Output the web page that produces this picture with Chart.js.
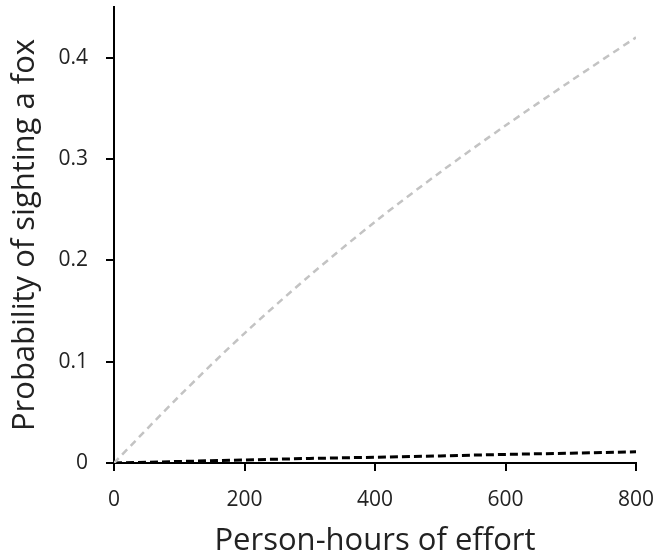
<!DOCTYPE html>
<html>
<head>
<meta charset="utf-8">
<script src="https://cdn.jsdelivr.net/npm/chart.js@4/dist/chart.umd.min.js"></script>
<style>
  html, body { margin: 0; padding: 0; background: #fff; }
  #wrap { width: 660px; height: 560px; }
</style>
</head>
<body>
<div id="wrap"><canvas id="c" width="660" height="560"></canvas></div>
<script>
const effortHours = [0, 100, 200, 300, 400, 500, 600, 700, 800];
const greySeries  = [0, 0.066, 0.128, 0.185, 0.238, 0.287, 0.333, 0.377, 0.420];
const blackSeries = [0, 0.0015, 0.003, 0.0045, 0.0057, 0.007, 0.0085, 0.0097, 0.011];
const xTicks = [0, 200, 400, 600, 800];
const yTicks = [0, 0.1, 0.2, 0.3, 0.4];

const toXY = (ys) => effortHours.map((x, i) => ({ x: x, y: ys[i] }));
const FONT = "'Open Sans', Lato, sans-serif";

new Chart(document.getElementById('c'), {
  type: 'line',
  data: {
    datasets: [
      { data: toXY(greySeries), borderColor: '#c3c3c3', borderWidth: 2.5, borderDash: [7, 5],
        pointRadius: 0, tension: 0.3, fill: false },
      { data: toXY(blackSeries), borderColor: '#000000', borderWidth: 3, borderDash: [8, 4],
        pointRadius: 0, tension: 0, fill: false }
    ]
  },
  options: {
    responsive: false,
    animation: false,
    devicePixelRatio: 1,
    layout: { padding: { top: 7, right: 24, left: 0, bottom: 0 } },
    plugins: { legend: { display: false }, tooltip: { enabled: false } },
    scales: {
      x: {
        type: 'linear', min: 0, max: 800,
        afterBuildTicks: (s) => { s.ticks = xTicks.map(v => ({ value: v })); },
        afterFit: (s) => { s.height = 97; s.paddingTop = 0; s.paddingBottom = 0; s.paddingLeft = 0; s.paddingRight = 0; },
        grid: { drawOnChartArea: false, drawTicks: true, tickLength: 8, color: '#000', lineWidth: 2 },
        border: { display: true, color: '#000', width: 2 },
        ticks: { color: '#222', font: { family: FONT, size: 21 }, padding: 16, maxRotation: 0 },
        title: { display: true, text: 'Person-hours of effort', color: '#222',
                 font: { family: FONT, size: 31 }, padding: { top: 4, bottom: 0 } }
      },
      y: {
        type: 'linear', min: 0, max: 0.45,
        afterBuildTicks: (s) => { s.ticks = yTicks.map(v => ({ value: v })); },
        afterFit: (s) => { s.width = 114; s.paddingTop = 0; s.paddingBottom = 0; },
        grid: { drawOnChartArea: false, drawTicks: true, tickLength: 8, color: '#000', lineWidth: 2 },
        border: { display: true, color: '#000', width: 2 },
        ticks: { color: '#222', font: { family: FONT, size: 21 }, padding: 18,
                 callback: (v) => (v === 0 ? '0' : Number(v).toFixed(1)) },
        title: { display: true, text: 'Probability of sighting a fox', color: '#222',
                 font: { family: FONT, size: 31 }, padding: { top: 7, bottom: 4 } }
      }
    }
  }
});
</script>
</body>
</html>
